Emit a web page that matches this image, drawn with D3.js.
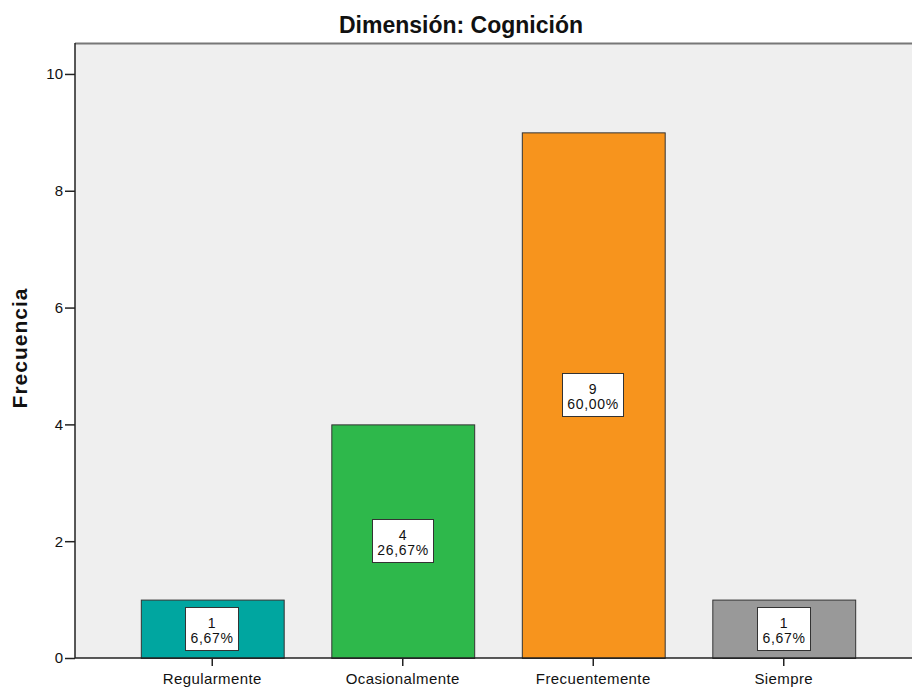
<!DOCTYPE html>
<html>
<head>
<meta charset="utf-8">
<script src="https://cdn.jsdelivr.net/npm/d3@7"></script>
<style>
  body { margin: 0; background: #fff; }
  svg text { font-family: "Liberation Sans", Arial, sans-serif; }
</style>
</head>
<body>
<svg id="chart" width="912" height="689"></svg>
<script>
var categories = ["Regularmente", "Ocasionalmente", "Frecuentemente", "Siempre"];
var counts = [1, 4, 9, 1];
var percents = ["6,67%", "26,67%", "60,00%", "6,67%"];
var colors = ["#00a6a0", "#2eb84b", "#f7941d", "#999999"];
var yTicks = [0, 2, 4, 6, 8, 10];

var svg = d3.select("#chart");
var plotLeft = 75, plotTop = 43, plotRight = 913, plotBottom = 658;

var yScale = d3.scaleLinear().domain([0, 10.53]).range([plotBottom, plotTop]);
var xScale = d3.scaleBand().domain(categories).range([117, 879]).paddingInner(0.25).paddingOuter(0.125);

// fondo del area de trazado
svg.append("rect")
    .attr("x", plotLeft).attr("y", plotTop)
    .attr("width", plotRight - plotLeft).attr("height", plotBottom - plotTop)
    .style("fill", "#efefef");
svg.append("line")
    .attr("x1", plotLeft).attr("x2", plotRight)
    .attr("y1", plotTop + 0.5).attr("y2", plotTop + 0.5)
    .attr("stroke", "#777").attr("stroke-width", 2);

// barras
svg.append("g").selectAll("rect").data(counts).enter()
    .append("rect")
    .attr("x", function (d, i) { return xScale(categories[i]) + 0.5; })
    .attr("y", function (d) { return yScale(d) + 0.5; })
    .attr("width", xScale.bandwidth())
    .attr("height", function (d) { return plotBottom - yScale(d); })
    .style("fill", function (d, i) { return colors[i]; })
    .attr("stroke", "#333").attr("stroke-width", 1);

// ejes
var y_axis = d3.axisLeft(yScale).tickValues(yTicks).tickSize(10).tickPadding(2);
var gy = svg.append("g")
    .attr("transform", "translate(" + plotLeft + ",0)")
    .call(y_axis);
gy.select(".domain").attr("d", "M0," + plotTop + "V" + plotBottom).attr("stroke", "#222").attr("stroke-width", 1.5);
gy.selectAll(".tick line").attr("stroke", "#222").attr("stroke-width", 1.5);
gy.selectAll(".tick text").style("font-size", "15px").attr("fill", "#111");

var x_axis = d3.axisBottom(xScale).tickSize(8).tickPadding(5).tickSizeOuter(0);
var gx = svg.append("g")
    .attr("transform", "translate(0," + plotBottom + ")")
    .call(x_axis);
gx.select(".domain").attr("d", "M" + plotLeft + ",0H" + plotRight).attr("stroke", "#222").attr("stroke-width", 1.5);
gx.selectAll(".tick line").attr("stroke", "#222").attr("stroke-width", 1.5);
gx.selectAll(".tick text").attr("dy", null).attr("y", 26)
    .style("font-size", "15px").style("letter-spacing", "0.4px").attr("fill", "#111");

// etiquetas de datos (recuento y porcentaje)
var lab = svg.append("g").selectAll("g").data(counts).enter()
    .append("g")
    .attr("transform", function (d, i) {
        return "translate(" + Math.round(xScale(categories[i]) + xScale.bandwidth() / 2) + "," + Math.round(yScale(d / 2)) + ")";
    });
lab.append("rect")
    .attr("x", function (d, i) { return percents[i].length > 5 ? -30.5 : -26.5; })
    .attr("y", -21.5)
    .attr("width", function (d, i) { return percents[i].length > 5 ? 61 : 53; })
    .attr("height", 43)
    .style("fill", "#fff")
    .attr("stroke", "#333").attr("stroke-width", 1);
var txt = lab.append("text")
    .attr("text-anchor", "middle")
    .style("font-size", "14px").style("letter-spacing", "0.7px").attr("fill", "#111");
txt.append("tspan").attr("x", 0).attr("y", -1)
    .text(function (d) { return d; });
txt.append("tspan").attr("x", 0).attr("y", 14)
    .text(function (d, i) { return percents[i]; });

// titulos
svg.append("text")
    .attr("x", 461).attr("y", 33)
    .attr("text-anchor", "middle")
    .style("font-size", "23px").style("font-weight", "bold").attr("fill", "#111")
    .text("Dimensión: Cognición");
svg.append("text")
    .attr("transform", "translate(27,348) rotate(-90)")
    .attr("text-anchor", "middle")
    .style("font-size", "21px").style("font-weight", "bold").style("letter-spacing", "1px").attr("fill", "#111")
    .text("Frecuencia");
</script>
</body>
</html>
